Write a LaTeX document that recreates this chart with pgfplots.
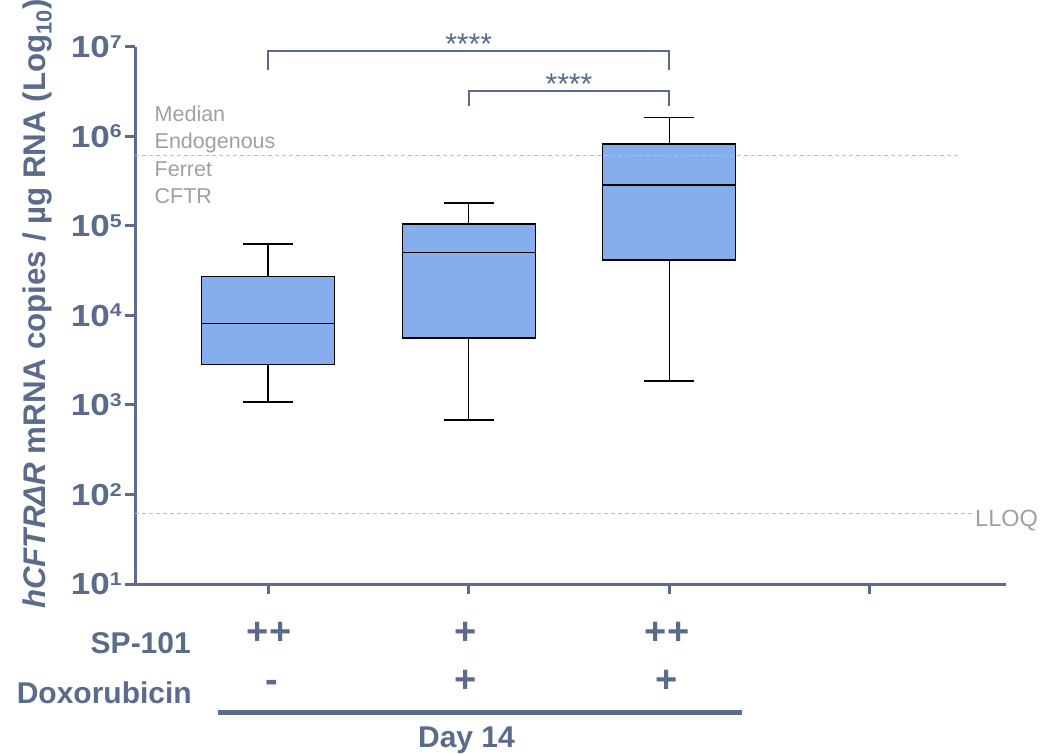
\documentclass[border=0pt]{standalone}
\usepackage{fontspec}
\setmainfont{Liberation Sans}
\usepackage{graphicx}
\usepackage{pgfplots}
\pgfplotsset{compat=1.18}
\definecolor{slate}{HTML}{5A6B8C}
\definecolor{boxblue}{HTML}{86ADEC}
\definecolor{refgray}{HTML}{A0A0A0}
\definecolor{dashgray}{HTML}{BDBDBD}
\newcommand{\tl}[1]{\mbox{\fontsize{30.5}{30.5}\selectfont\bfseries\scalebox{1.15}[1]{10}\raisebox{9.5pt}{\fontsize{18.5}{18.5}\selectfont\bfseries\scalebox{1.15}[1]{#1}}}}
\begin{document}
\begin{tikzpicture}
\path[use as bounding box] (0pt,0pt) rectangle (1047pt,-754pt);
\begin{axis}[
  at={(135pt,-584pt)}, anchor=south west,
  scale only axis, width=871pt, height=537.3pt,
  xmin=0.337, xmax=4.678,
  ymode=log, ymin=10, ymax=1e7,
  ytick={10,100,1000,10000,100000,1000000,10000000},
  yticklabels={\tl{1},\tl{2},\tl{3},\tl{4},\tl{5},\tl{6},\tl{7}},
  xtick={1,2,3,4}, xticklabel=\empty,
  axis x line*=bottom, axis y line*=left,
  axis line style={line width=3pt, draw=slate, -},
  tick style={line width=3pt, draw=slate},
  tick align=outside, major tick length=10pt,
  yminorticks=false, xminorticks=false,
  yticklabel style={text=slate, inner sep=0pt, xshift=-3pt},
  clip=false,
  wh/.style={black, line width=1.1pt},
]
% box 1
\addplot[wh] coordinates {(1,1077) (1,62600)};
\addplot[wh] coordinates {(0.8755,1077) (1.1245,1077)};
\addplot[wh] coordinates {(0.8755,62600) (1.1245,62600)};
\addplot[draw=black, fill=boxblue, line width=1.1pt] coordinates {(0.668,2840) (1.332,2840) (1.332,27000) (0.668,27000)} -- cycle;
\addplot[wh] coordinates {(0.668,8150) (1.332,8150)};
% box 2
\addplot[wh] coordinates {(2,678) (2,179800)};
\addplot[wh] coordinates {(1.8755,678) (2.1245,678)};
\addplot[wh] coordinates {(1.8755,179800) (2.1245,179800)};
\addplot[draw=black, fill=boxblue, line width=1.1pt] coordinates {(1.668,5590) (2.332,5590) (2.332,104800) (1.668,104800)} -- cycle;
\addplot[wh] coordinates {(1.668,50900) (2.332,50900)};
% box 3
\addplot[wh] coordinates {(3,1850) (3,1610000)};
\addplot[wh] coordinates {(2.8755,1850) (3.1245,1850)};
\addplot[wh] coordinates {(2.8755,1610000) (3.1245,1610000)};
\addplot[draw=black, fill=boxblue, line width=1.1pt] coordinates {(2.668,41500) (3.332,41500) (3.332,819000) (2.668,819000)} -- cycle;
\addplot[wh] coordinates {(2.668,285600) (3.332,285600)};
% reference lines
\addplot[dashgray, line width=1pt, dash pattern=on 4pt off 3pt] coordinates {(0.337,606000) (4.449,606000)};
\addplot[dashgray, line width=1pt, dash pattern=on 4pt off 3pt] coordinates {(0.337,60.5) (4.513,60.5)};
% significance brackets
\addplot[slate, line width=2pt] coordinates {(1,5.5e6) (1,8.95e6) (3,8.95e6) (3,5.5e6)};
\addplot[slate, line width=2pt] coordinates {(2,2.18e6) (2,3.23e6) (3,3.23e6) (3,2.18e6)};
\node[anchor=base, inner sep=0, text=slate, font=\fontsize{30}{30}\selectfont] at (axis cs:2,8.28e6) {****};
\node[anchor=base, inner sep=0, text=slate, font=\fontsize{30}{30}\selectfont] at (axis cs:2.5,2.91e6) {****};
\end{axis}
\begin{scope}[x=1pt,y=1pt]
% y label
\node[rotate=90, anchor=base, inner sep=0, text=slate, font=\bfseries\fontsize{31.3}{31.3}\selectfont] at (45,-304) {\textit{hCFTRΔR} mRNA copies / µg RNA (Log\textsubscript{10})};
% reference texts
\begin{scope}[every node/.style={anchor=base west, inner sep=0, text=refgray, font=\fontsize{21.5}{21.5}\selectfont}]
\node at (154.5,-121.7) {Median};
\node at (154.5,-149) {Endogenous};
\node at (154.5,-176.5) {Ferret};
\node at (154.5,-204) {CFTR};
\node[font=\fontsize{23.5}{23.5}\selectfont] at (975,-526.5) {LLOQ};
\end{scope}
% treatment rows
\begin{scope}[every node/.style={inner sep=0, text=slate, font=\bfseries\fontsize{30}{30}\selectfont}]
\node[anchor=base east] at (191,-653) {SP-101};
\node[anchor=base east] at (192,-703) {Doxorubicin};
\node[anchor=base] at (466.5,-747) {Day 14};
\end{scope}
\begin{scope}[every node/.style={inner sep=0, anchor=center, text=slate, font=\bfseries\fontsize{38}{38}\selectfont}]
\node at (269,-633) {++};
\node at (466,-633) {+};
\node at (667,-633) {++};
\node at (272,-686) {-};
\node at (466,-681) {+};
\node at (667,-681) {+};
\end{scope}
\draw[slate, line width=5pt] (218,-712) -- (742,-712);
\end{scope}
\end{tikzpicture}
\end{document}
